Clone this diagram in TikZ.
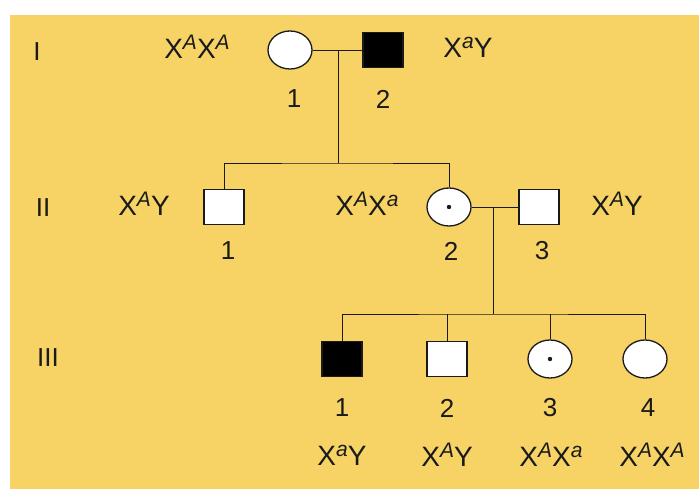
\documentclass[tikz,border=0pt]{standalone}
\usepackage{fontspec}
\setmainfont{Liberation Sans}
\usetikzlibrary{shapes.geometric}
\definecolor{bgyellow}{HTML}{F7D366}
\definecolor{ink}{HTML}{1A1A1A}
\newcommand{\sx}[1]{X\raisebox{9pt}{\fontsize{21}{21}\selectfont\itshape #1}}
\tikzset{
  male/.style={draw=ink, line width=1.3pt, fill=white, minimum width=40pt, minimum height=35pt, inner sep=0pt},
  female/.style={draw=ink, ellipse, line width=1.3pt, fill=white, minimum width=44pt, minimum height=38pt, inner sep=0pt},
  affected/.style={fill=black},
  carrier/.style={path picture={\fill[ink] (path picture bounding box.center) circle (2.2pt);}},
  conn/.style={draw=ink, line width=0.8pt},
  txt/.style={font=\fontsize{26}{26}\selectfont, inner sep=0pt, text=ink},
  gen/.style={txt, font=\fontsize{28}{28}\selectfont}
}
\begin{document}
\begin{tikzpicture}[x=1pt,y=-1pt]
\useasboundingbox (0,0) rectangle (699,489);
\fill[white] (0,0) rectangle (699,489);
\fill[bgyellow] (10,15) rectangle (699,489);

% generation labels
\node[txt] (gI) at (37,52) {I};
\node[txt] (gII) at (43,208) {II};
\node[txt] (gIII) at (48,358) {III};

% generation I
\node[female] (i1) at (290,50) {};
\node[male, affected] (i2) at (383,50) {};
\node[gen] (gi1) at (197,47) {\sx{A}\sx{A}};
\node[gen] (gi2) at (468,47) {\sx{a}Y};
\node[txt] (ni1) at (294,99) {1};
\node[txt] (ni2) at (383,99) {2};

% generation II
\node[male] (ii1) at (224,207) {};
\node[female, carrier] (ii2) at (449,207) {};
\node[male] (ii3) at (539,207) {};
\node[gen] (gii1) at (144,204) {\sx{A}Y};
\node[gen] (gii2) at (367,204) {\sx{A}\sx{a}};
\node[gen] (gii3) at (617,204) {\sx{A}Y};
\node[txt] (nii1) at (228,251) {1};
\node[txt] (nii2) at (451,251) {2};
\node[txt] (nii3) at (542,251) {3};

% generation III
\node[male, affected] (iii1) at (342,359) {};
\node[male] (iii2) at (447,359) {};
\node[female, carrier] (iii3) at (550,359) {};
\node[female] (iii4) at (645,359) {};
\node[txt] (niii1) at (342,408) {1};
\node[txt] (niii2) at (447,408) {2};
\node[txt] (niii3) at (550,408) {3};
\node[txt] (niii4) at (648,408) {4};
\node[gen] (giii1) at (342,455) {\sx{a}Y};
\node[gen] (giii2) at (447,455) {\sx{A}Y};
\node[gen] (giii3) at (551,455) {\sx{A}\sx{a}};
\node[gen] (giii4) at (652,455) {\sx{A}\sx{A}};

% connectors
\coordinate (m1) at (338,50);
\coordinate (s1) at (338,163);
\coordinate (m2) at (493,207);
\coordinate (s2) at (493,314);
\draw[conn] (i1.east) -- (i2.west);
\draw[conn] (m1) -- (s1);
\draw[conn] (ii1.north) |- (s1) -| (ii2.north);
\draw[conn] (ii2.east) -- (ii3.west);
\draw[conn] (m2) -- (s2);
\draw[conn] (iii1.north) |- (s2) -| (iii4.north);
\draw[conn] (iii2.north) -- (iii2.north |- s2);
\draw[conn] (iii3.north) -- (iii3.north |- s2);
\end{tikzpicture}
\end{document}
